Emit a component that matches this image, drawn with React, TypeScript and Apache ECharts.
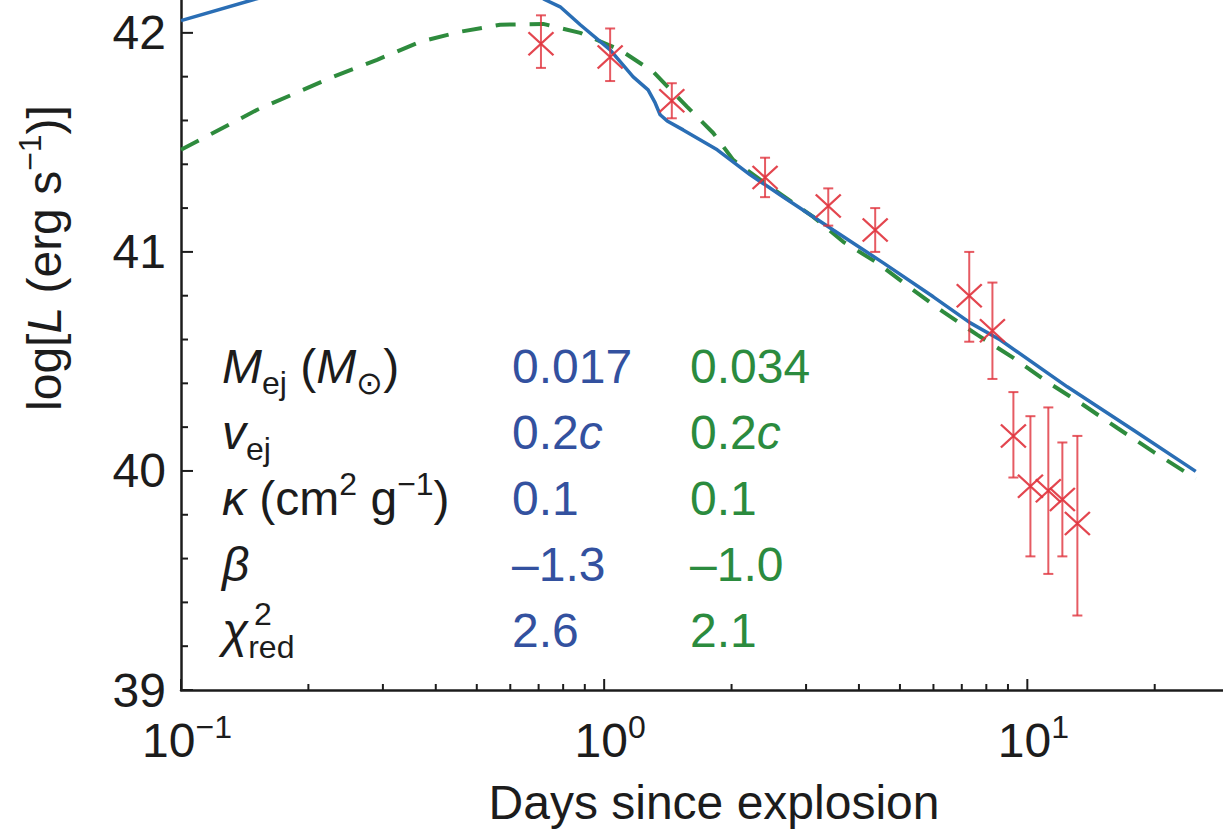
import React, { useEffect, useRef } from 'react';
import * as echarts from 'echarts';

const FONT = '"Liberation Sans", Arial, Helvetica, sans-serif';
const INK = '#1c1c1c';
const BLUE_LINE = '#2a6eb5';
const GREEN_LINE = '#2e8b3d';
const BLUE_TEXT = '#33519f';
const GREEN_TEXT = '#2b8b3e';
const RED = '#e0323c';

// ---- observed data (days since explosion, log L) ----
const obsDays = [0.709, 1.033, 1.445, 2.4, 3.385, 4.37, 7.29, 8.27, 9.27, 10.17, 11.21, 12.1, 13.13];
const obsLogL = [41.95, 41.89, 41.69, 41.34, 41.21, 41.1, 40.8, 40.64, 40.16, 39.93, 39.91, 39.87, 39.76];
const obsHigh = [42.08, 42.02, 41.77, 41.43, 41.29, 41.2, 41.0, 40.86, 40.36, 40.25, 40.29, 40.13, 40.16];
const obsLow = [41.84, 41.78, 41.61, 41.25, 41.12, 41.0, 40.59, 40.42, 39.97, 39.61, 39.53, 39.61, 39.34];

// ---- blue model (solid) ----
const blueDays = [0.1, 0.148, 0.2, 0.3, 0.45, 0.6, 0.725, 0.787, 0.878, 1.033, 1.171, 1.27, 1.32, 1.356, 1.409, 1.537, 1.85, 2.214, 2.65, 3.478, 4.566, 5.995, 7.33, 8.636, 12.43, 17.8, 25];
const blueLogL = [42.056, 42.151, 42.22, 42.3, 42.33, 42.25, 42.151, 42.119, 42.037, 41.922, 41.799, 41.74, 41.68, 41.626, 41.598, 41.557, 41.466, 41.352, 41.251, 41.1, 40.95, 40.795, 40.676, 40.598, 40.384, 40.187, 39.998];

// ---- green model (dashed) ----
const greenDays = [0.1, 0.151, 0.2287, 0.2906, 0.367, 0.4566, 0.5677, 0.7175, 0.878, 1.091, 1.306, 1.571, 1.81, 2.018, 2.428, 3.12, 3.673, 4.42, 5.29, 6.33, 7.62, 9.27, 11.15, 13.57, 16.32, 19.86, 25];
const greenLogL = [41.466, 41.648, 41.799, 41.877, 41.959, 42.005, 42.037, 42.041, 42.0, 41.922, 41.822, 41.662, 41.543, 41.42, 41.306, 41.16, 41.046, 40.95, 40.836, 40.726, 40.621, 40.516, 40.406, 40.301, 40.196, 40.087, 39.965];

// ---- axes ----
const xMajorTicks = [0.1, 1, 10];
const xTickExponents = ['\u22121', '0', '1'];
const xMinorTicks = [0.2, 0.3, 0.4, 0.5, 0.6, 0.7, 0.8, 0.9, 2, 3, 4, 5, 6, 7, 8, 9, 20];
const yMajorTicks = [39, 40, 41, 42];
const yTickLabels = ['39', '40', '41', '42'];
const yMinorTicks = [39.2, 39.4, 39.6, 39.8, 40.2, 40.4, 40.6, 40.8, 41.2, 41.4, 41.6, 41.8];

// ---- parameter table ----
const paramLabels = [
  '{it|M}{sub|ej}{n| (}{it|M}{sub|\u2299}{n|)}',
  '{it|v}{sub|ej}',
  '{it|\u03ba}{n| (cm}{sup|2}{n| g}{sup|\u22121}{n|)}',
  '{it|\u03b2}',
  '{it|\u03c7}{sub|red}',
];
const blueParams = ['0.017', '0.2{i|c}', '0.1', '\u20131.3', '2.6'];
const greenParams = ['0.034', '0.2{i|c}', '0.1', '\u20131.0', '2.1'];

const xTitle = 'Days since explosion';
const yTitle = '{n|log[}{it|L}{n| (erg s}{sup|\u22121}{n|)]}';

function richSet(fill: string) {
  return {
    n: { fontSize: 48, fontFamily: FONT, fill },
    it: { fontSize: 48, fontFamily: FONT, fontStyle: 'italic', fill },
    i: { fontSize: 48, fontFamily: FONT, fontStyle: 'italic', fill },
    sub: { fontSize: 32, fontFamily: FONT, fill, padding: [34, 0, 0, 0] },
    sup: { fontSize: 32, fontFamily: FONT, fill, padding: [0, 0, 28, 0] },
  };
}

export default function App() {
  const ref = useRef<HTMLDivElement>(null);

  useEffect(() => {
    if (!ref.current) return;
    document.body.style.margin = '0';
    const chart = echarts.init(ref.current, undefined, { renderer: 'svg' });

    const rowY = [366, 432, 498, 564, 630];
    const colX = [222, 512, 690];

    const graphic: any[] = [];
    paramLabels.forEach((t, i) => {
      graphic.push({
        type: 'text', x: colX[0], y: rowY[i], silent: true,
        style: { text: t, rich: richSet(INK), fontSize: 48, fontFamily: FONT, fill: INK, align: 'left', verticalAlign: 'middle' },
      });
    });
    graphic.push({
      type: 'text', x: 254, y: rowY[4] - 16, silent: true,
      style: { text: '2', fontSize: 32, fontFamily: FONT, fill: INK, align: 'left', verticalAlign: 'middle' },
    });
    blueParams.forEach((t, i) => {
      graphic.push({
        type: 'text', x: colX[1], y: rowY[i], silent: true,
        style: { text: t, rich: richSet(BLUE_TEXT), fontSize: 48, fontFamily: FONT, fill: BLUE_TEXT, align: 'left', verticalAlign: 'middle' },
      });
    });
    greenParams.forEach((t, i) => {
      graphic.push({
        type: 'text', x: colX[2], y: rowY[i], silent: true,
        style: { text: t, rich: richSet(GREEN_TEXT), fontSize: 48, fontFamily: FONT, fill: GREEN_TEXT, align: 'left', verticalAlign: 'middle' },
      });
    });
    graphic.push({
      type: 'text', x: 714, y: 802, silent: true,
      style: { text: xTitle, fontSize: 48, fontFamily: FONT, fill: INK, align: 'center', verticalAlign: 'middle' },
    });
    graphic.push({
      type: 'text', x: 44, y: 258, rotation: Math.PI / 2, silent: true,
      style: { text: yTitle, rich: richSet(INK), fontSize: 48, fontFamily: FONT, fill: INK, align: 'center', verticalAlign: 'middle' },
    });

    const xTickData = [
      ...xMajorTicks.map((v) => [v, yMajorTicks[0], 1]),
      ...xMinorTicks.map((v) => [v, yMajorTicks[0], 0]),
    ];
    const yTickData = [
      ...yMajorTicks.map((v) => [xMajorTicks[0], v, 1]),
      ...yMinorTicks.map((v) => [xMajorTicks[0], v, 0]),
    ];

    const option: any = {
      animation: false,
      backgroundColor: '#ffffff',
      grid: { left: 181, right: 0, top: 0, bottom: 142, containLabel: false, outerBoundsMode: 'none' },
      xAxis: {
        type: 'log',
        logBase: 10,
        min: 0.1,
        max: 29,
        axisLine: { show: true, onZero: false, lineStyle: { color: INK, width: 2.5 } },
        axisTick: { show: false },
        minorTick: { show: false },
        splitLine: { show: false },
        axisLabel: {
          margin: 21,
          padding: [0, 0, 0, 12],
          formatter: (v: number) => {
            const i = xMajorTicks.findIndex((t) => Math.abs(Math.log10(t) - Math.log10(v)) < 1e-6);
            return i >= 0 ? `{b|10}{s|${xTickExponents[i]}}` : '';
          },
          rich: {
            b: { fontSize: 48, fontFamily: FONT, color: INK },
            s: { fontSize: 32, fontFamily: FONT, color: INK, padding: [0, 0, 27, 0] },
          },
        },
      },
      yAxis: {
        type: 'value',
        min: 39,
        max: 42.15,
        interval: 1,
        axisLine: { show: true, onZero: false, lineStyle: { color: INK, width: 2.5 } },
        axisTick: { show: false },
        minorTick: { show: false },
        splitLine: { show: false },
        axisLabel: {
          margin: 15,
          fontSize: 48,
          fontFamily: FONT,
          color: INK,
          formatter: (v: number) => {
            const i = yMajorTicks.findIndex((t) => Math.abs(t - v) < 1e-6);
            return i >= 0 ? yTickLabels[i] : '';
          },
        },
      },
      tooltip: { show: false },
      series: [
        {
          name: 'Green model',
          type: 'line',
          data: greenDays.map((d, i) => [d, greenLogL[i]]),
          showSymbol: false,
          smooth: false,
          lineStyle: { color: GREEN_LINE, width: 4, type: [20, 14] },
          silent: true,
          z: 2,
        },
        {
          name: 'Blue model',
          type: 'line',
          data: blueDays.map((d, i) => [d, blueLogL[i]]),
          showSymbol: false,
          lineStyle: { color: BLUE_LINE, width: 3.5 },
          silent: true,
          z: 3,
        },
        {
          name: 'Error bars',
          type: 'custom',
          data: obsDays.map((d, i) => [d, obsLow[i], obsHigh[i]]),
          encode: { x: 0, y: [1, 2] },
          silent: true,
          z: 4,
          renderItem: (params: any, api: any) => {
            const x = api.value(0);
            const top = api.coord([x, api.value(2)]);
            const bot = api.coord([x, api.value(1)]);
            const cw = 5;
            const style = { stroke: RED, lineWidth: 2, opacity: 0.8 };
            return {
              type: 'group',
              children: [
                { type: 'line', shape: { x1: top[0], y1: top[1], x2: bot[0], y2: bot[1] }, style },
                { type: 'line', shape: { x1: top[0] - cw, y1: top[1], x2: top[0] + cw, y2: top[1] }, style },
                { type: 'line', shape: { x1: bot[0] - cw, y1: bot[1], x2: bot[0] + cw, y2: bot[1] }, style },
              ],
            };
          },
        },
        {
          name: 'Observed',
          type: 'scatter',
          data: obsDays.map((d, i) => [d, obsLogL[i]]),
          symbol: 'path://M0 0L24 22M24 0L0 22',
          symbolSize: [25, 23],
          itemStyle: { color: 'none', borderColor: RED, borderWidth: 2.2, opacity: 0.9 },
          silent: true,
          z: 5,
        },
        {
          name: 'x ticks',
          type: 'custom',
          data: xTickData,
          silent: true,
          clip: false,
          z: 6,
          renderItem: (params: any, api: any) => {
            const p = api.coord([api.value(0), api.value(1)]);
            const len = api.value(2) ? 11 : 6;
            return { type: 'line', shape: { x1: p[0], y1: p[1], x2: p[0], y2: p[1] - len }, style: { stroke: INK, lineWidth: 2 } };
          },
        },
        {
          name: 'y ticks',
          type: 'custom',
          data: yTickData,
          silent: true,
          clip: false,
          z: 6,
          renderItem: (params: any, api: any) => {
            const p = api.coord([api.value(0), api.value(1)]);
            const len = api.value(2) ? 12 : 7;
            return { type: 'line', shape: { x1: p[0], y1: p[1], x2: p[0] + len, y2: p[1] }, style: { stroke: INK, lineWidth: 2 } };
          },
        },
      ],
      graphic,
    };

    chart.setOption(option);
    return () => chart.dispose();
  }, []);

  return <div ref={ref} style={{ width: 1223, height: 832 }} />;
}
